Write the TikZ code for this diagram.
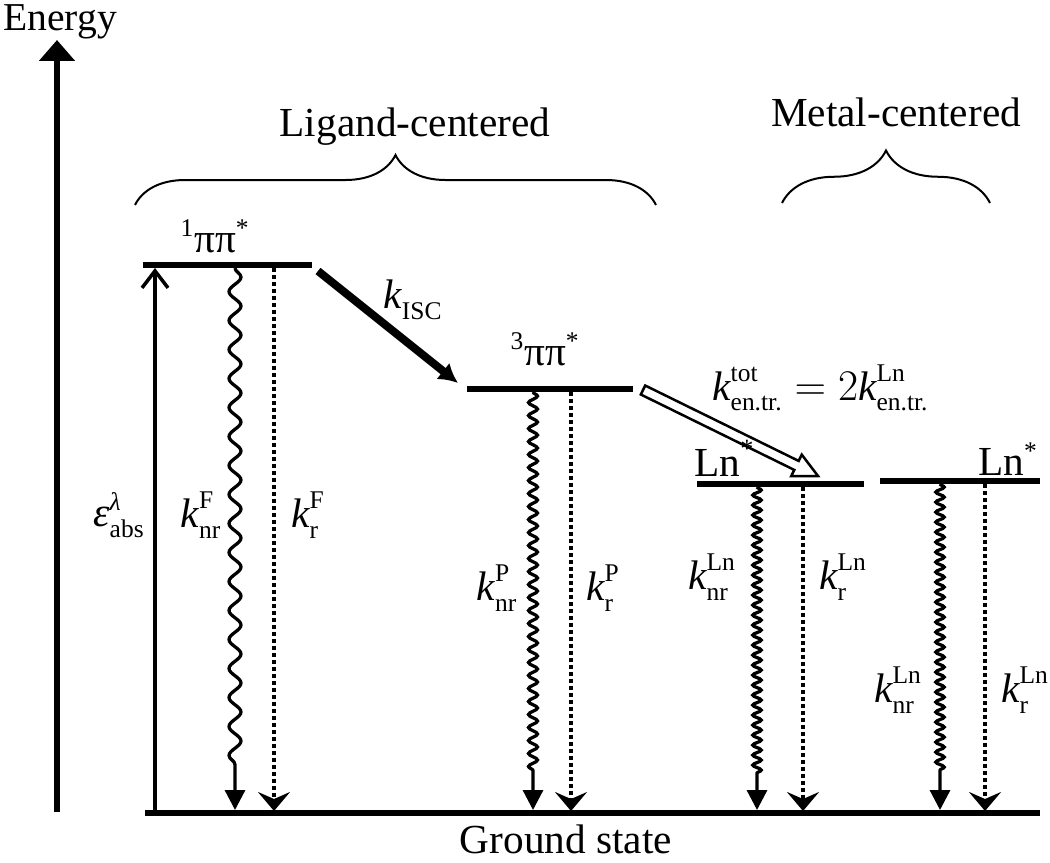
\documentclass[tikz,border=0pt]{standalone}
\usepackage{amsmath}
\usepackage{fontspec}
\setmainfont{Liberation Serif}
\usetikzlibrary{arrows.meta,calc,decorations.pathmorphing,decorations.pathreplacing}
\DeclareMathSizes{23.5}{23.5}{14.5}{11}

\newcommand{\rate}[2]{$\textit{k}^{\text{#2}}_{\text{#1}}$}

\begin{document}
\begin{tikzpicture}[x=0.02cm, y=-0.02cm,
    every node/.style={font=\fontsize{23.5}{28}\selectfont, inner sep=0pt},
    level/.style={line width=0.12cm},
    brace/.style={line width=0.04cm, decorate, decoration={brace, amplitude=#1}},
    wavy/.style 2 args={line width=0.065cm, -{Triangle[length=0.4cm, width=0.4cm]},
        decorate, decoration={snake, segment length=#1, amplitude=#2, post length=0.7cm}},
    radiative/.style={line width=0.08cm, dash pattern=on 0.075cm off 0.065cm,
        -{Stealth[length=0.38cm, width=0.64cm, inset=0.14cm]}}]
    \useasboundingbox (0,0) rectangle (1050,862);

    \coordinate (ax0) at (57,812);
    \coordinate (ax1) at (57,40);
    \coordinate (gl) at (145,813);
    \coordinate (gr) at (1040,813);
    \coordinate (s1l) at (143,265);
    \coordinate (s1r) at (312,265);
    \coordinate (t1l) at (467,389);
    \coordinate (t1r) at (633,389);
    \coordinate (lnal) at (697,484);
    \coordinate (lnar) at (864,484);
    \coordinate (lnbl) at (880,481);
    \coordinate (lnbr) at (1040,481);
    \coordinate (bl0) at (135,205);
    \coordinate (bl1) at (656,205);
    \coordinate (bm0) at (782,203);
    \coordinate (bm1) at (990,203);

    \draw[line width=0.12cm, -{Triangle[length=0.42cm, width=0.7cm]}] (ax0) -- (ax1);
    \draw[line width=0.11cm] (gl) -- (gr);
    \draw[level] (s1l) -- (s1r);
    \draw[level] (t1l) -- (t1r);
    \draw[level] (lnal) -- (lnar);
    \draw[level] (lnbl) -- (lnbr);

    \draw[brace=1cm] (bl0) -- (bl1);
    \draw[brace=1.05cm] (bm0) -- (bm1);

    \coordinate (abs0) at (155,812);
    \coordinate (abs1) at (155,268);
    \draw[line width=0.07cm, -{Straight Barb[length=0.34cm, width=0.52cm]}] (abs0) -- (abs1);

    \coordinate (f0) at (235,268);
    \coordinate (f1) at (235,810);
    \coordinate (fr0) at (274,268);
    \coordinate (fr1) at (274,811);
    \draw[wavy={0.58cm}{0.12cm}] (f0) -- (f1);
    \draw[radiative] (fr0) -- (fr1);

    \coordinate (p0) at (533,392);
    \coordinate (p1) at (533,810);
    \coordinate (pr0) at (571,392);
    \coordinate (pr1) at (571,811);
    \draw[wavy={0.26cm}{0.09cm}] (p0) -- (p1);
    \draw[radiative] (pr0) -- (pr1);

    \coordinate (la0) at (757,487);
    \coordinate (la1) at (757,810);
    \coordinate (lar0) at (803,487);
    \coordinate (lar1) at (803,811);
    \draw[wavy={0.2cm}{0.085cm}] (la0) -- (la1);
    \draw[radiative] (lar0) -- (lar1);

    \coordinate (lb0) at (940,484);
    \coordinate (lb1) at (940,810);
    \coordinate (lbr0) at (985,484);
    \coordinate (lbr1) at (985,811);
    \draw[wavy={0.2cm}{0.085cm}] (lb0) -- (lb1);
    \draw[radiative] (lbr0) -- (lbr1);

    \coordinate (isc0) at (318,271);
    \coordinate (isc1) at (458,383);
    \draw[line width=0.16cm, -{Latex[length=0.38cm, width=0.42cm]}] (isc0) -- (isc1);

    \coordinate (et0) at (643,390);
    \coordinate (et1) at (818,476);
    \coordinate (eth) at ($(et1)!0.48cm!(et0)$);
    \draw[line width=0.05cm, line join=miter, fill=white]
        ($(et0)!0.1cm!90:(et1)$) -- ($(eth)!0.1cm!-90:(et0)$) -- ($(eth)!0.24cm!-90:(et0)$)
        -- (et1) -- ($(eth)!0.24cm!90:(et0)$) -- ($(eth)!0.1cm!90:(et0)$)
        -- ($(et0)!0.1cm!-90:(et1)$) -- cycle;

    \node[anchor=base west, font=\fontsize{22.5}{27}\selectfont] (energy) at (3,31) {Energy};
    \node[anchor=base] (ground) at (566,853) {Ground state};
    \node[anchor=base] (ligand) at (415,136) {Ligand-centered};
    \node[anchor=base] (metal) at (896,126) {Metal-centered};
    \node[anchor=base] (singlet) at (215,252) {\textsuperscript{1}ππ\textsuperscript{*}};
    \node[anchor=base] (triplet) at (545,365) {\textsuperscript{3}ππ\textsuperscript{*}};
    \node[anchor=base] (lna) at (724,476) {Ln\raisebox{0.45em}{\fontsize{15}{15}\selectfont *}};
    \node[anchor=base] (lnb) at (1008,475) {Ln\textsuperscript{*}};

    \node (eps) at (119,515) {$\textit{ε}^{\textit{λ}}_{\text{abs}}$};
    \node (knrf) at (201,515) {\rate{nr}{F}};
    \node (krf) at (308,515) {\rate{r}{F}};
    \node (kisc) at (413,300) {\rate{ISC}{}};
    \node (knrp) at (497,588) {\rate{nr}{P}};
    \node (krp) at (603,588) {\rate{r}{P}};
    \node (knra) at (712,577) {\rate{nr}{Ln}};
    \node (kra) at (843,577) {\rate{r}{Ln}};
    \node (knrb) at (898,690) {\rate{nr}{Ln}};
    \node (krb) at (1025,690) {\rate{r}{Ln}};
    \node[anchor=base west] (ket) at (712,400)
        {$\textit{k}^{\text{tot}}_{\text{en.tr.}} = 2\textit{k}^{\text{Ln}}_{\text{en.tr.}}$};
\end{tikzpicture}
\end{document}
